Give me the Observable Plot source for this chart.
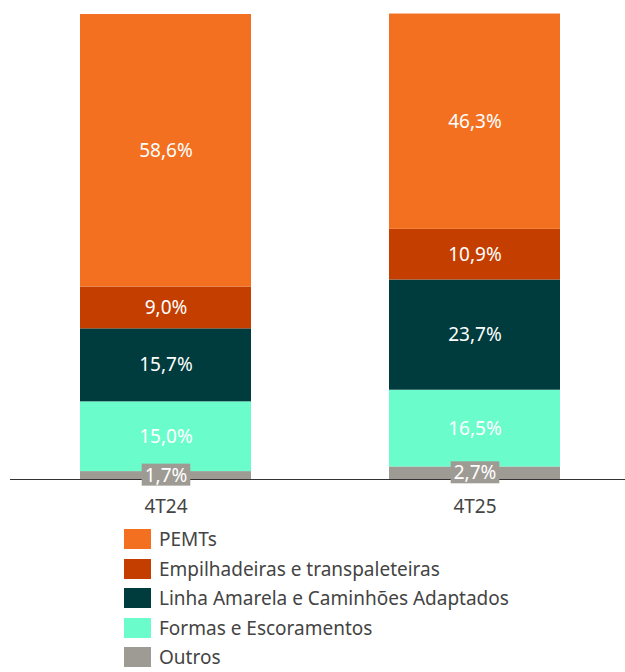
<!DOCTYPE html>
<html>
<head>
<meta charset="utf-8">
<script src="https://cdn.jsdelivr.net/npm/d3@7"></script>
<script src="https://cdn.jsdelivr.net/npm/@observablehq/plot@0.6"></script>
<style>
  html, body { margin: 0; padding: 0; background: #fff; }
  body { width: 625px; font-family: "Noto Sans", "Open Sans", sans-serif; }
  #chart svg { display: block; }
  .legend { margin-top: 4px; margin-left: 124px; }
  .legend .item { display: flex; align-items: center; height: 29.8px; font-size: 19px; line-height: 20px; color: #444; white-space: nowrap; }
  .legend .item:last-child { height: 20px; margin-top: 4px; }
  .legend .sw { width: 27px; height: 20px; margin-right: 8px; flex: none; }
</style>
</head>
<body>
<div id="chart"></div>
<div class="legend" id="legend"></div>
<script>
const periods = ["4T24", "4T25"];
// bottom-to-top stacking order
const segments = ["Outros", "Formas e Escoramentos", "Linha Amarela e Caminhões Adaptados", "Empilhadeiras e transpaleteiras", "PEMTs"];
const colors = ["#9e9b94", "#6bfccb", "#003c3e", "#c43e00", "#f37021"];
const values4T24 = [1.7, 15.0, 15.7, 9.0, 58.6];
const values4T25 = [2.7, 16.5, 23.7, 10.9, 46.3];
const legendOrder = ["PEMTs", "Empilhadeiras e transpaleteiras", "Linha Amarela e Caminhões Adaptados", "Formas e Escoramentos", "Outros"];

const series = [values4T24, values4T25];
const data = [];
periods.forEach((p, i) => {
  segments.forEach((s, j) => {
    data.push({period: p, segment: s, value: series[i][j], label: series[i][j].toFixed(1).replace(".", ",") + "%"});
  });
});

const font = "'Noto Sans', 'Open Sans', sans-serif";

const plot = Plot.plot({
  width: 625,
  height: 520,
  marginTop: 14,
  marginBottom: 41,
  marginLeft: 10,
  marginRight: 0,
  style: {fontFamily: font, fontSize: "19px", color: "#444", background: "#fff"},
  x: {domain: periods, paddingInner: 0.4466, paddingOuter: 0.2184, align: 0.52, label: null},
  y: {domain: [0, 100], axis: null},
  color: {domain: segments, range: colors},
  marks: [
    Plot.barY(data, Plot.stackY({x: "period", y: "value", fill: "segment", order: null})),
    Plot.ruleY([0], {stroke: "#333", strokeWidth: 1.2}),
    Plot.text(data, Plot.stackY({
      x: "period", y: "value", text: d => d.segment === "Outros" ? "" : d.label,
      fill: "white", fontSize: 19, order: null
    })),
    Plot.text(data, Plot.stackY({
      x: "period", y: "value", text: d => d.segment === "Outros" ? d.label : "",
      fill: "white", fontSize: 19, order: null, className: "outros-label"
    })),
    Plot.axisX({tickSize: 0, tickPadding: 20, fontSize: 19, fill: "#444", label: null})
  ]
});
document.getElementById("chart").appendChild(plot);

// grey background box behind the "Outros" labels
d3.select(plot).selectAll(".outros-label text").each(function() {
  if (!this.textContent) return;
  const b = this.getBBox();
  const r = d3.select(this.parentNode).insert("rect", () => this)
    .attr("x", b.x - 3).attr("y", b.y + 2)
    .attr("width", b.width + 6).attr("height", b.height - 4)
    .attr("fill", "#9e9b94");
  const t = this.getAttribute("transform");
  if (t) r.attr("transform", t);
});

const legend = d3.select("#legend");
legendOrder.forEach(s => {
  const it = legend.append("div").attr("class", "item");
  it.append("div").attr("class", "sw").style("background", colors[segments.indexOf(s)]);
  it.append("span").text(s);
});
</script>
</body>
</html>
